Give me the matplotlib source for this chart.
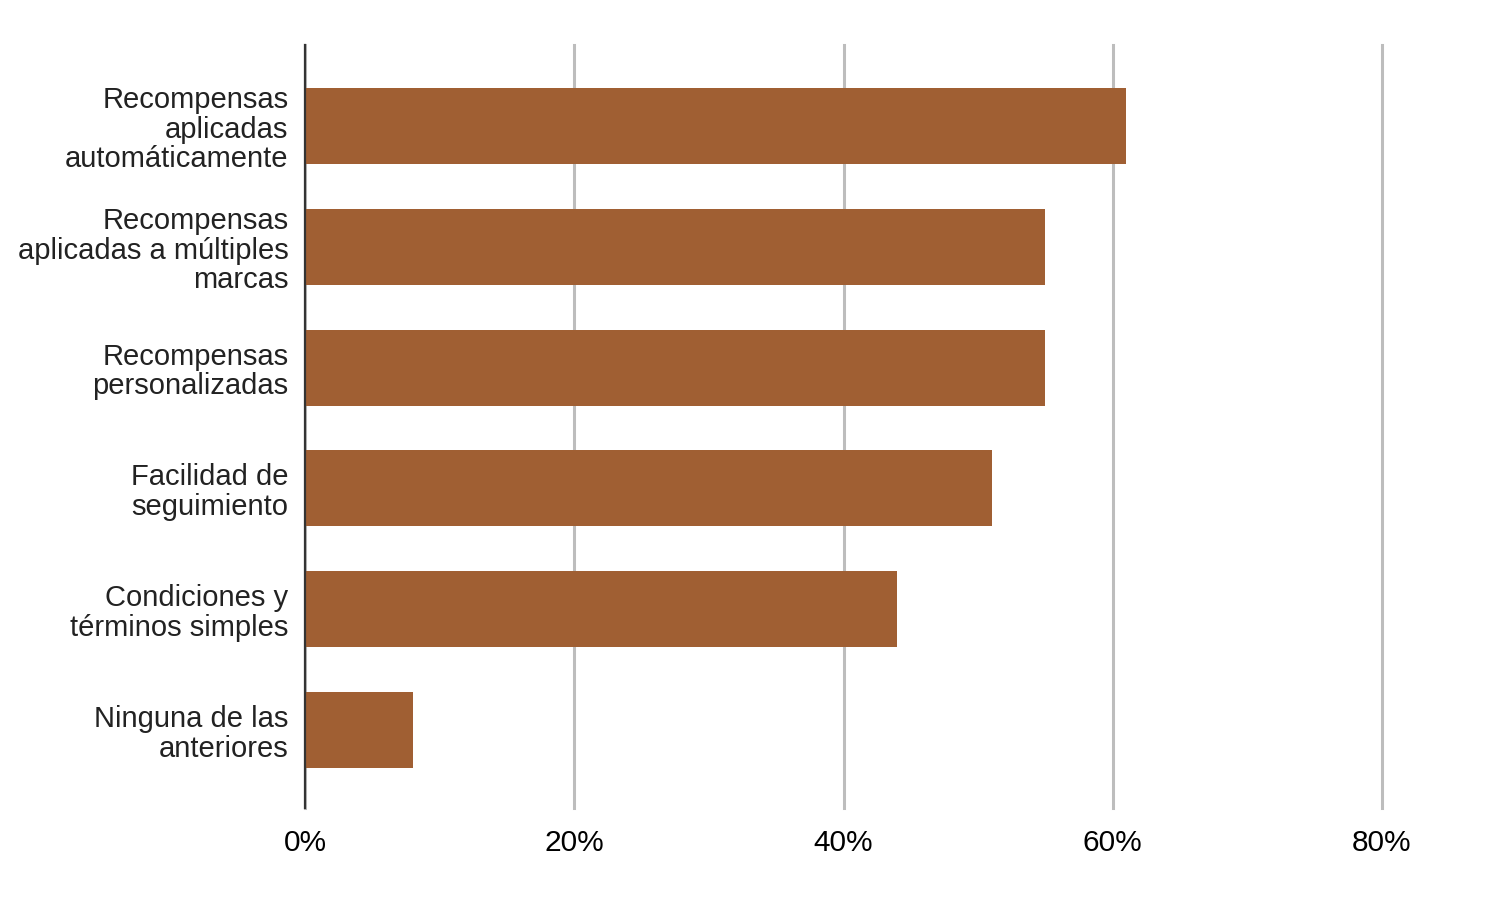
import matplotlib.pyplot as plt
from matplotlib.ticker import FuncFormatter

plt.rcParams['font.family'] = ['Liberation Sans', 'DejaVu Sans']

# data
categorias = ['Recompensas\naplicadas\nautomáticamente',
              'Recompensas\naplicadas a múltiples\nmarcas',
              'Recompensas\npersonalizadas',
              'Facilidad de\nseguimiento',
              'Condiciones y\ntérminos simples',
              'Ninguna de las\nanteriores']
valores = [61, 55, 55, 51, 44, 8]
ticks_x = [0, 20, 40, 60, 80]

fig = plt.figure(figsize=(15.07, 9.10), dpi=100)
ax = fig.add_axes([305/1507, 1 - 808/910, (1382 - 305)/1507, (808 - 45)/910])

pos = list(range(len(categorias)))
ax.barh(pos, valores, height=0.63, color='#A05F33', zorder=3)

ax.set_xlim(0, 80)
ax.set_ylim(len(categorias) - 1 + 0.645, -0.67)
ax.set_xticks(ticks_x)
ax.xaxis.set_major_formatter(FuncFormatter(lambda v, p: f'{v:.0f}%'))
ax.set_yticks(pos)
ax.set_yticklabels(categorias, color='#222222', linespacing=1.07)

ax.grid(axis='x', color='#BDBDBD', linewidth=2.2, zorder=0)
for gl in ax.get_xgridlines():
    gl.set_clip_on(False)
ax.tick_params(axis='both', length=0)
ax.tick_params(axis='x', pad=15, colors='black', labelsize=21.5)
ax.tick_params(axis='y', pad=12, labelsize=21)

for s in ['top', 'right', 'bottom']:
    ax.spines[s].set_visible(False)
ax.spines['left'].set_color('#333333')
ax.spines['left'].set_linewidth(1.6)
ax.spines['left'].set_zorder(4)

plt.savefig('out.png', dpi=100)
